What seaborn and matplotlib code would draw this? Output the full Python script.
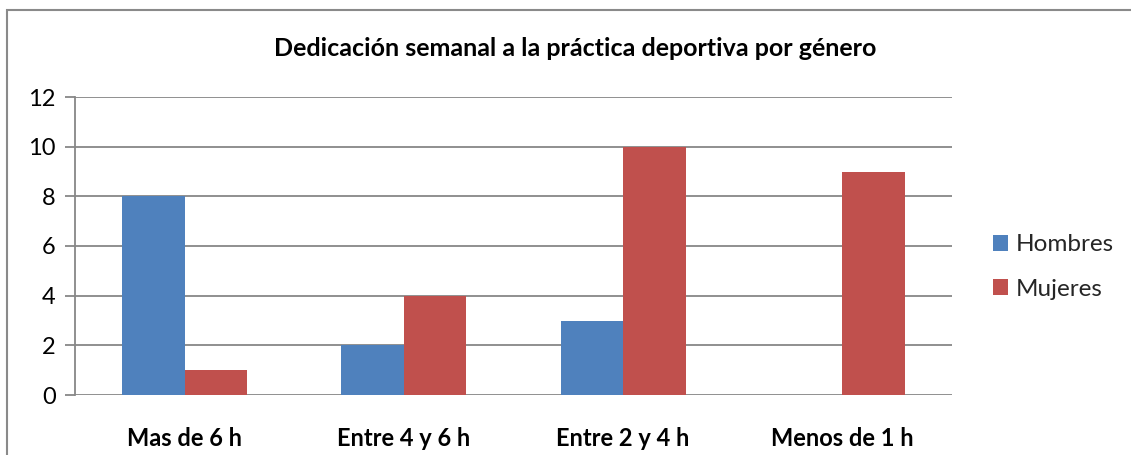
import matplotlib
matplotlib.use("Agg")
import matplotlib.pyplot as plt
import seaborn as sns
import pandas as pd
from matplotlib.patches import Rectangle

categories = ["Mas de 6 h", "Entre 4 y 6 h", "Entre 2 y 4 h", "Menos de 1 h"]
hombres = [8, 2, 3, 0]
mujeres = [1, 4, 10, 9]
series_names = ["Hombres", "Mujeres"]
y_ticks = [0, 2, 4, 6, 8, 10, 12]

df = pd.DataFrame({
    "categoria": categories * 2,
    "genero": [series_names[0]] * len(categories) + [series_names[1]] * len(categories),
    "valor": hombres + mujeres,
})

sns.set_theme(style="white")
plt.rcParams["font.family"] = ["Lato", "DejaVu Sans"]

W, H = 1131, 455
fig = plt.figure(figsize=(W / 100, H / 100), dpi=100)
ax = fig.add_axes([75 / W, 1 - 395 / H, (952 - 75) / W, (395 - 97) / H])

grid_c = "#878787"
palette = {"Hombres": "#4F81BD", "Mujeres": "#C0504D"}

ax.set_axisbelow(True)
for t in y_ticks:
    ax.axhline(t, color=grid_c, lw=1.3, zorder=0)

sns.barplot(data=df, x="categoria", y="valor", hue="genero", order=categories,
            hue_order=series_names, palette=palette, width=0.57, saturation=1,
            linewidth=0, ax=ax, legend=True)

ax.set_ylim(0, 12)
ax.set_xlim(-0.5, len(categories) - 0.5)
ax.set_yticks(y_ticks)
ax.set_yticklabels([str(t) for t in y_ticks], fontsize=17, color="#000000")
ax.set_xticks(range(len(categories)))
ax.set_xticklabels(categories, fontsize=17, fontweight="bold", color="#000000")
ax.set_xlabel("")
ax.set_ylabel("")

for s in ["top", "right", "bottom"]:
    ax.spines[s].set_visible(False)
ax.spines["left"].set_color(grid_c)
ax.spines["left"].set_linewidth(1.3)
ax.tick_params(axis="y", which="major", left=True, length=7, width=1.3,
               color=grid_c, pad=7)
ax.tick_params(axis="x", bottom=False, pad=17)

leg = ax.legend(loc="center left", bbox_to_anchor=(993 / W, 1 - 267 / H),
                bbox_transform=fig.transFigure, frameon=False, fontsize=17.5,
                handlelength=0.62, handleheight=0.62, handletextpad=0.3,
                labelspacing=0.95, borderaxespad=0, borderpad=0)

fig.text(575 / W, 1 - 48 / H, "Dedicación semanal a la práctica deportiva por género",
         ha="center", va="center", fontsize=18, fontweight="bold", color="#000000")

# outer chart frame
fig.patches.append(Rectangle((7 / W, -0.1), 1.2, 1 - 10 / H + 0.1,
                             transform=fig.transFigure, fill=False,
                             edgecolor="#8a8a8a", linewidth=1.5))

fig.savefig("out.png", dpi=100)
